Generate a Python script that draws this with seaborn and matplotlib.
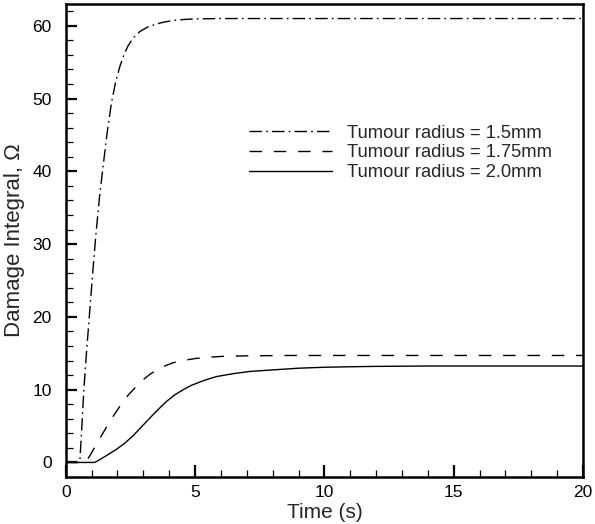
import matplotlib
matplotlib.use("Agg")
import matplotlib.pyplot as plt
import seaborn as sns
import pandas as pd
from matplotlib.ticker import MultipleLocator

# ---- data ----
t_15 = [0, 0.5, 0.55, 0.6, 0.7, 0.8, 0.91, 1.03, 1.17, 1.3, 1.42, 1.6, 1.77, 1.93, 2.09, 2.25, 2.4, 2.6, 2.86, 3.15, 3.5, 3.85, 4.2, 4.6, 5.0, 6.0, 8.0, 10.0, 15.0, 20.0]
v_15 = [0, 0, 0.5, 3.5, 10.0, 15.0, 20.0, 25.5, 31.5, 36.3, 40.0, 45.3, 49.5, 52.3, 54.4, 56.0, 57.2, 58.3, 59.2, 59.8, 60.25, 60.55, 60.75, 60.88, 60.95, 61.0, 61.0, 61.0, 61.0, 61.0]

t_175 = [0, 0.75, 0.93, 1.2, 1.45, 1.75, 2.09, 2.4, 2.74, 3.0, 3.25, 3.64, 4.15, 4.6, 5.05, 5.5, 6.08, 7.0, 8.66, 10.0, 15.0, 20.0]
v_175 = [0, 0, 0.9, 2.6, 4.1, 5.9, 7.7, 9.2, 10.5, 11.4, 12.1, 13.0, 13.7, 14.05, 14.3, 14.45, 14.58, 14.65, 14.7, 14.7, 14.7, 14.7]

t_20 = [0, 1.1, 1.2, 1.32, 1.6, 1.96, 2.3, 2.61, 2.93, 3.25, 3.58, 3.9, 4.22, 4.54, 4.86, 5.18, 5.5, 5.83, 6.47, 7.11, 8.14, 9.0, 10.0, 11.0, 12.0, 14.0, 16.0, 20.0]
v_20 = [0, 0, 0.15, 0.4, 1.0, 1.8, 2.7, 3.7, 4.9, 6.1, 7.3, 8.4, 9.3, 10.0, 10.6, 11.05, 11.45, 11.8, 12.2, 12.5, 12.75, 12.95, 13.08, 13.15, 13.2, 13.25, 13.25, 13.25]

labels = ["Tumour radius = 1.5mm", "Tumour radius = 1.75mm", "Tumour radius = 2.0mm"]

x_ticks = [0, 5, 10, 15, 20]
y_ticks = [0, 10, 20, 30, 40, 50, 60]

# ---- styling ----
sns.set_style("ticks")
plt.rcParams["font.family"] = ["Liberation Sans", "DejaVu Sans"]

fig = plt.figure(figsize=(5.95, 5.24), dpi=100)
ax = fig.add_axes([0.1105, 0.0897, 0.8695, 0.9027])

series = [(t_15, v_15, (0, (9, 3, 1.2, 3))),
          (t_175, v_175, (0, (9, 8.5))),
          (t_20, v_20, "-")]
for (t, v, ls), lab in zip(series, labels):
    df = pd.DataFrame({"t": t, "v": v})
    sns.lineplot(data=df, x="t", y="v", ax=ax, color="black", linewidth=1.0,
                 linestyle=ls, label=lab, estimator=None, sort=False)

ax.set_xlim(0, 20)
ax.set_ylim(-2, 63)
ax.set_xticks(x_ticks)
ax.set_yticks(y_ticks)
ax.xaxis.set_minor_locator(MultipleLocator(1))
ax.yaxis.set_minor_locator(MultipleLocator(2))
ax.tick_params(which="both", direction="in", top=False, right=False, labelsize=12.5, colors="black")
ax.tick_params(axis="y", which="major", length=8, width=1.6, pad=10)
ax.tick_params(axis="y", which="minor", length=5, width=0.9)
ax.tick_params(axis="x", which="major", length=9, width=1.6, pad=6)
ax.tick_params(axis="x", which="minor", length=5, width=0.9)
for s in ax.spines.values():
    s.set_linewidth(1.8)
    s.set_color("black")

ax.set_xlabel("Time (s)", fontsize=15, labelpad=2)
ax.set_ylabel("Damage Integral, \u03a9", fontsize=16, labelpad=5.5)

leg = ax.legend(loc="upper left", bbox_to_anchor=(0.355, 0.745), frameon=False,
                fontsize=13.2, handlelength=4.5, handletextpad=0.82,
                labelspacing=0.15, borderpad=0, borderaxespad=0)

fig.savefig("out.png", dpi=100)
